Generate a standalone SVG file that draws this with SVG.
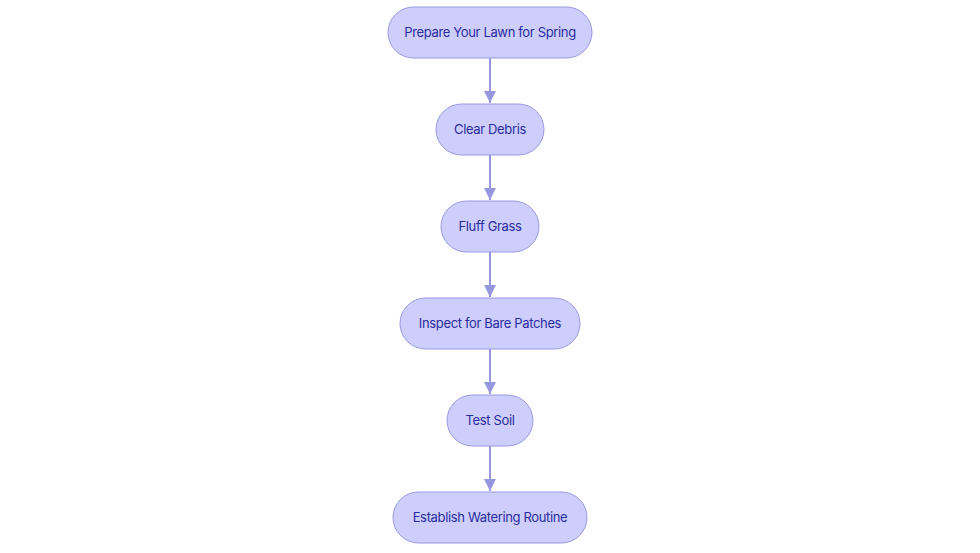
<svg xmlns="http://www.w3.org/2000/svg" width="980" height="553" viewBox="0 0 980 553">
<defs>
<style>
.n rect{fill:#cdcefb;stroke:#9898e4;stroke-width:1}
.n text{font-family:Inter,"Noto Sans","Liberation Sans",sans-serif;font-size:13px;letter-spacing:-0.35px;fill:#2b2ca0;text-anchor:middle;dominant-baseline:central}
.e line{stroke:#9797e0;stroke-width:2}
</style>
<marker id="ah" viewBox="0 0 10 10" refX="10" refY="5" markerWidth="6" markerHeight="6" markerUnits="strokeWidth" orient="auto">
<path d="M0,0 L10,5 L0,10 z" fill="#9797e0"/>
</marker>
</defs>
<rect width="980" height="553" fill="#ffffff"/>
<g id="edges" class="e">
<line x1="490" y1="58" x2="490" y2="103" marker-end="url(#ah)"/>
<line x1="490" y1="155" x2="490" y2="200" marker-end="url(#ah)"/>
<line x1="490" y1="252" x2="490" y2="297" marker-end="url(#ah)"/>
<line x1="490" y1="349" x2="490" y2="394" marker-end="url(#ah)"/>
<line x1="490" y1="446" x2="490" y2="491" marker-end="url(#ah)"/>
</g>
<g id="n1" class="n"><rect x="388" y="7" width="204" height="51" rx="25.5"/><text x="490" y="32">Prepare Your Lawn for Spring</text></g>
<g id="n2" class="n"><rect x="436" y="104" width="108" height="51" rx="25.5"/><text x="490" y="129">Clear Debris</text></g>
<g id="n3" class="n"><rect x="441" y="201" width="98" height="51" rx="25.5"/><text x="490" y="226">Fluff Grass</text></g>
<g id="n4" class="n"><rect x="400" y="298" width="180" height="51" rx="25.5"/><text x="490" y="323">Inspect for Bare Patches</text></g>
<g id="n5" class="n"><rect x="447" y="395" width="86" height="51" rx="25.5"/><text x="490" y="420">Test Soil</text></g>
<g id="n6" class="n"><rect x="393" y="492" width="194" height="51" rx="25.5"/><text x="490" y="517">Establish Watering Routine</text></g>
</svg>
